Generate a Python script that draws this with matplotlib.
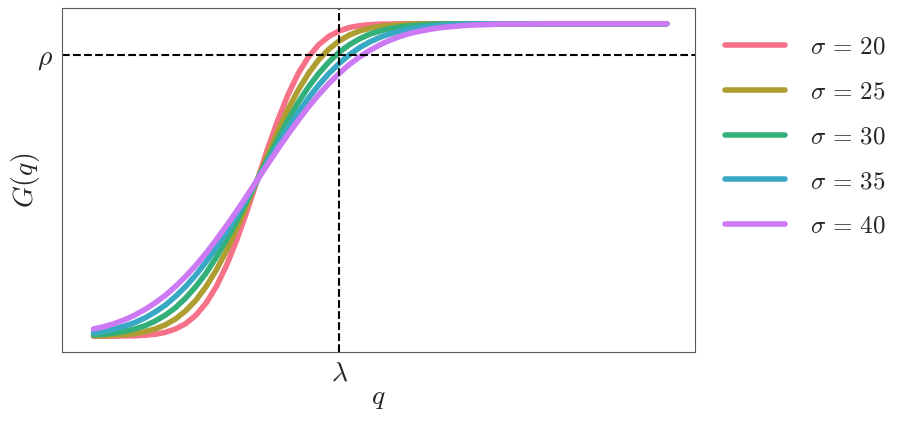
import matplotlib
matplotlib.use("Agg")
import matplotlib.pyplot as plt
import seaborn as sns

# values (q on the x axis, G(q) on the y axis)
q = [0, 5, 10, 15, 20, 25, 30, 35, 40, 45, 50, 55, 60, 65, 70, 75, 80,
     85, 90, 95, 100, 105, 110, 115, 120, 125, 130, 135, 140, 145, 150,
     155, 160, 165, 170, 175, 180, 185, 190, 195, 200, 210, 220, 250, 280]

sigmas = [20, 25, 30, 35, 40]

g_20 = [0.000, 0.000, 0.000, 0.001, 0.001, 0.003, 0.006, 0.012, 0.023, 0.040,
        0.067, 0.106, 0.159, 0.227, 0.309, 0.401, 0.500, 0.599, 0.691, 0.773,
        0.841, 0.894, 0.933, 0.960, 0.977, 0.988, 0.994, 0.997, 0.999, 0.999,
        1.000, 1.000, 1.000, 1.000, 1.000, 1.000, 1.000, 1.000, 1.000, 1.000,
        1.000, 1.000, 1.000, 1.000, 1.000]
g_25 = [0.001, 0.001, 0.003, 0.005, 0.008, 0.014, 0.023, 0.036, 0.055, 0.081,
        0.115, 0.159, 0.212, 0.274, 0.345, 0.421, 0.500, 0.579, 0.655, 0.726,
        0.788, 0.841, 0.885, 0.919, 0.945, 0.964, 0.977, 0.986, 0.992, 0.995,
        0.997, 0.999, 0.999, 1.000, 1.000, 1.000, 1.000, 1.000, 1.000, 1.000,
        1.000, 1.000, 1.000, 1.000, 1.000]
g_30 = [0.004, 0.006, 0.010, 0.015, 0.023, 0.033, 0.048, 0.067, 0.091, 0.122,
        0.159, 0.202, 0.253, 0.309, 0.369, 0.434, 0.500, 0.566, 0.631, 0.692,
        0.748, 0.798, 0.841, 0.878, 0.909, 0.933, 0.952, 0.967, 0.977, 0.985,
        0.990, 0.994, 0.996, 0.998, 0.999, 0.999, 1.000, 1.000, 1.000, 1.000,
        1.000, 1.000, 1.000, 1.000, 1.000]
g_35 = [0.011, 0.016, 0.023, 0.032, 0.043, 0.058, 0.077, 0.099, 0.127, 0.159,
        0.196, 0.238, 0.284, 0.334, 0.388, 0.443, 0.500, 0.557, 0.612, 0.666,
        0.716, 0.762, 0.804, 0.841, 0.873, 0.901, 0.924, 0.942, 0.957, 0.968,
        0.977, 0.984, 0.989, 0.992, 0.995, 0.997, 0.998, 0.999, 0.999, 1.000,
        1.000, 1.000, 1.000, 1.000, 1.000]
g_40 = [0.023, 0.030, 0.040, 0.052, 0.067, 0.085, 0.106, 0.130, 0.159, 0.191,
        0.227, 0.266, 0.309, 0.354, 0.401, 0.450, 0.500, 0.550, 0.599, 0.646,
        0.691, 0.734, 0.773, 0.809, 0.841, 0.870, 0.894, 0.915, 0.933, 0.948,
        0.960, 0.970, 0.977, 0.983, 0.988, 0.991, 0.994, 0.996, 0.997, 0.998,
        0.999, 0.999, 1.000, 1.000, 1.000]

curves = [g_20, g_25, g_30, g_35, g_40]

lam = 120   # position of the lambda tick
rho = 0.9   # position of the rho tick

sns.set_style("white")
plt.rcParams['mathtext.fontset'] = 'cm'
plt.rcParams['font.family'] = ['DejaVu Serif']

colors = sns.color_palette("husl", len(sigmas))

fig, ax = plt.subplots(figsize=(9.09, 4.29), dpi=100)
fig.subplots_adjust(left=0.068, right=0.765, bottom=0.18, top=0.981)

for s, g, c in zip(sigmas, curves, colors):
    ax.plot(q, g, color=c, lw=4, solid_capstyle='round',
            label=rf'$\sigma\, =\, {s}$')

ax.axvline(lam, color='k', ls='--', lw=1.5)
ax.axhline(rho, color='k', ls='--', lw=1.5)

ax.set_xlim(-15.5, 294)
ax.set_xticks([lam])
ax.set_xticklabels([r'$\lambda$'])
ax.set_yticks([rho])
ax.set_yticklabels([r'$\rho$'])
ax.tick_params(length=0, labelsize=20, pad=6)

ax.set_xlabel(r'$q$', fontsize=20, labelpad=-2.5)
ax.set_ylabel(r'$G(q)$', fontsize=20, labelpad=-3)

for sp in ax.spines.values():
    sp.set_color('0.35')

ax.legend(loc='upper left', bbox_to_anchor=(1.011, 0.985), frameon=False,
          fontsize=18, handlelength=2.4, handletextpad=1.0, labelspacing=0.87)

fig.savefig('out.png', dpi=100)
